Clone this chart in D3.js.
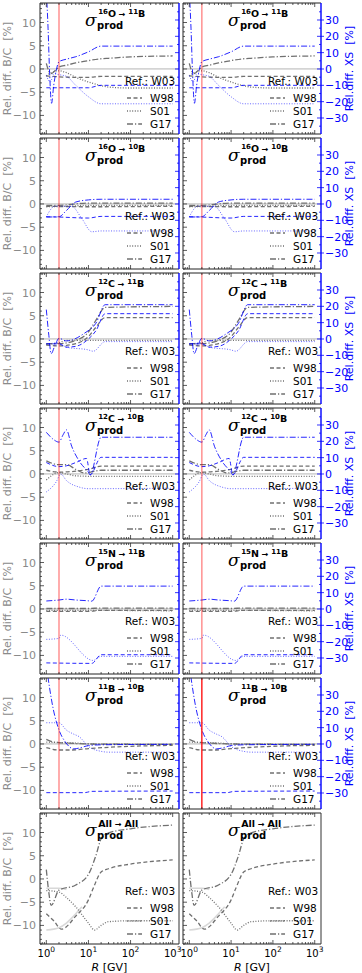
<!DOCTYPE html>
<html>
<head>
<meta charset="utf-8">
<script src="https://cdn.jsdelivr.net/npm/d3@7"></script>
<style>
  body { margin: 0; background: #fff; }
  svg { display: block; font-family: "DejaVu Sans", sans-serif; }
</style>
</head>
<body>
<svg id="chart" width="362" height="973"></svg>
<script>
// ---- data: [R (GV), relative difference (%)] ----
// B/C differences (left axis) and XS differences (right axis), w.r.t. W03

// 16O -> 11B
const o16b11BcW98 = [[1,-1.5],[1.5,-1.6],[2,-1.7],[5,-1.8],[10,-1.8],[20,-1.6],[1000,-1.6]];
const o16b11BcS01 = [[1,-1.5],[1.3,-0.8],[2,-0.4],[3,-0.8],[5,-1.8],[10,-2.8],[20,-3.6],[30,-3.9],[100,-4.1],[1000,-4.1]];
const o16b11BcG17 = [[1,1.2],[1.15,-0.5],[1.3,-1],[1.6,-0.4],[2,0.4],[3,0.8],[5,1.3],[10,1.8],[20,2.2],[30,2.3],[100,2.6],[1000,2.8]];
const o16b11XsW98 = [[1,-11.5],[10,-11.5],[20,-10],[1000,-10]];
const o16b11XsS01 = [[1,-4],[1.25,-8],[1.5,-3],[2,-3.5],[3,-4.5],[5,-10],[10,-17],[20,-21.3],[1000,-21.3]];
const o16b11XsG17 = [[1,48],[1.1,25],[1.2,-3],[1.33,-21],[1.5,-10],[1.75,0],[2,4.5],[3,6],[5,7.5],[10,10.5],[20,14],[1000,14]];

// 16O -> 10B
const o16b10BcW98 = [[1,-0.5],[10,-0.6],[1000,-0.5]];
const o16b10BcS01 = [[1,-0.6],[3,-0.5],[10,-0.3],[1000,-0.3]];
const o16b10BcG17 = [[1,-0.3],[2,-0.3],[10,0.2],[1000,0.2]];
const o16b10XsW98 = [[1,-7.8],[2,-8],[10,-8.6],[20,-7.6],[1000,-7.6]];
const o16b10XsS01 = [[1,-8],[1.3,-3],[1.6,-1.3],[4,-1.5],[7,-9],[12,-17],[20,-16.5],[1000,-16.5]];
const o16b10XsG17 = [[1,-8],[2,-7.8],[3,-4],[5,1.2],[10,2.5],[20,2.9],[1000,2.9]];

// 12C -> 11B
const c12b11BcW98 = [[1,-1.3],[2,-1.5],[5,-1],[10,0.5],[15,2.5],[25,4.6],[1000,4.6]];
const c12b11BcS01 = [[1,-1.2],[2,-0.8],[3,-0.3],[1000,-0.3]];
const c12b11BcG17 = [[1,-1],[2,-1],[5,-0.3],[10,1.5],[15,4],[25,6.8],[1000,7]];
const c12b11XsW98 = [[1,-3],[2,-3],[3,-5],[5,-4.5],[10,0],[15,5],[25,15.5],[1000,15.5]];
const c12b11XsS01 = [[1,-3],[2,-2.5],[3,-5],[10,-6.7],[13,-7.5],[25,-1.6],[1000,-1.6]];
const c12b11XsG17 = [[1,18],[1.15,2],[1.3,-9],[1.6,-4],[2,0.4],[3,-1.2],[8,3.5],[15,9.6],[25,21],[1000,21]];

// 12C -> 10B
const c12b10BcW98 = [[1,0.8],[2,0.4],[5,0.6],[10,1],[20,1.7],[1000,1.7]];
const c12b10BcS01 = [[1,-1.3],[2,0.3],[3,0],[5,-0.4],[10,-0.5],[1000,-0.5]];
const c12b10BcG17 = [[1,2.8],[2,2],[3,2],[5,1],[8,0.2],[10,0.3],[20,0.8],[1000,0.8]];
const c12b10XsW98 = [[1,7],[2,4.5],[3,5],[5,7],[9,9.5],[11,-0.5],[20,10.2],[1000,10.2]];
const c12b10XsS01 = [[1,-11],[1.7,-5],[2.2,0],[3,-4],[6,-8],[10,-9],[1000,-8.7]];
const c12b10XsG17 = [[1,25.5],[1.5,21],[2,19.5],[2.5,24],[3,27],[4,17],[6,8],[10,1],[11,-0.5],[20,22.5],[1000,22.5]];

// 15N -> 11B
const n15b11BcW98 = [[1,-0.5],[10,-0.5],[20,-0.3],[1000,-0.3]];
const n15b11BcS01 = [[1,-0.3],[10,-0.3],[1000,-0.4]];
const n15b11BcG17 = [[1,0.1],[10,0.1],[20,0.2],[1000,0.2]];
const n15b11XsW98 = [[1,-33],[12,-33.3],[20,-28],[1000,-28]];
const n15b11XsS01 = [[1,-18.6],[2,-18],[2.2,-16],[13,-31.5],[20,-29],[1000,-29]];
const n15b11XsG17 = [[1,4.9],[2,5.5],[3,6],[5,5.5],[10,5],[12,4.8],[20,14],[1000,14]];

// 11B -> 10B
const b11b10BcW98 = [[1,-0.8],[2,-1.3],[4,-1.3],[10,-1],[100,-0.5],[1000,-0.3]];
const b11b10BcS01 = [[1,0.4],[2,0.3],[5,0.2],[10,0],[1000,-0.1]];
const b11b10BcG17 = [[1,1],[1.5,0.4],[2,0.3],[3,0.2],[10,0],[1000,-0.1]];
const b11b10XsW98 = [[1,-29.8],[8,-29.8],[12,-29],[1000,-28.8]];
const b11b10XsS01 = [[1,13],[2,13],[3,8.5],[4.5,6],[6,4.5],[10,-1.5],[20,-4.5],[30,-5],[1000,-5]];
const b11b10XsG17 = [[1,48],[1.45,21.8],[2,8.6],[2.8,1.4],[4.5,-3],[6,-2.5],[10,-1],[20,-0.5],[1000,-0.2]];

// All -> All (B/C only)
const allBcW98 = [[1,-7.5],[1.5,-9],[2.3,-10.8],[5,-8],[10,-4.5],[13,-2],[20,1.5],[30,2.2],[100,3.2],[1000,4.1]];
const allBcS01 = [[1,-2.5],[2,-2.8],[3,-4],[5,-6],[10,-9.5],[14,-11],[20,-10],[30,-9.2],[100,-9],[1000,-9]];
const allBcG17 = [[1,2],[1.15,-3],[1.3,-5.7],[2,-2.4],[5,-1.3],[10,1],[15,5],[20,8.6],[30,9.9],[100,10.8],[1000,11.6]];
const allBcW03a = [[1,-11],[2,-10.5],[3,-9.5],[5,-7.5],[7,-6]];
const allBcW03b = [[1,-2],[2,-2],[3,-2.3]];

const titles = [
  ["16", "O", "11", "B"],
  ["16", "O", "10", "B"],
  ["12", "C", "11", "B"],
  ["12", "C", "10", "B"],
  ["15", "N", "11", "B"],
  ["11", "B", "10", "B"],
  ["", "All", "", "All"]
];
const legendRefs = ["W98", "S01", "G17"];
const xTicks = [1, 10, 100, 1000];
const bcTicks = [-10, -5, 0, 5, 10];
const xsTicks = [-30, -20, -10, 0, 10, 20, 30];

// ---- build panel table ----
const panels = [
  {bc: [o16b11BcW98, o16b11BcS01, o16b11BcG17], xs: [o16b11XsW98, o16b11XsS01, o16b11XsG17]},
  {bc: [o16b10BcW98, o16b10BcS01, o16b10BcG17], xs: [o16b10XsW98, o16b10XsS01, o16b10XsG17]},
  {bc: [c12b11BcW98, c12b11BcS01, c12b11BcG17], xs: [c12b11XsW98, c12b11XsS01, c12b11XsG17]},
  {bc: [c12b10BcW98, c12b10BcS01, c12b10BcG17], xs: [c12b10XsW98, c12b10XsS01, c12b10XsG17]},
  {bc: [n15b11BcW98, n15b11BcS01, n15b11BcG17], xs: [n15b11XsW98, n15b11XsS01, n15b11XsG17]},
  {bc: [b11b10BcW98, b11b10BcS01, b11b10BcG17], xs: [b11b10XsW98, b11b10XsS01, b11b10XsG17]},
  {bc: [allBcW98, allBcS01, allBcG17], xs: [], extra: [allBcW03a, allBcW03b]}
];

const dashes = ["4,2.5", "1,1.6", "6,2,1.2,2"];
const blue = "#0000ff";
const grayTick = "#8a8a8a";

const svg = d3.select("#chart");
const colX = [40, 183];
const colW = [139, 138];
const rowY = i => 3 + 135 * i;
const panelH = 131;

const defs = svg.append("defs");

panels.forEach((p, row) => {
  colX.forEach((x0, col) => {
    const y0 = rowY(row);
    const w = colW[col];
    const isAll = row === 6;

    const x = d3.scaleLog().domain([Math.pow(10, -0.15), Math.pow(10, 3.15)]).range([x0, x0 + w]);
    const yBc = d3.scaleLinear().domain([-14, 14.2]).range([y0 + panelH, y0]);
    const yXs = d3.scaleLinear().domain([-39.8, 40.4]).range([y0 + panelH, y0]);

    const clipId = `clip-${row}-${col}`;
    defs.append("clipPath").attr("id", clipId)
      .append("rect").attr("x", x0).attr("y", y0).attr("width", w).attr("height", panelH);

    const g = svg.append("g");
    const plot = g.append("g").attr("clip-path", `url(#${clipId})`);

    const lineBc = d3.line().x(d => x(d[0])).y(d => yBc(d[1])).curve(d3.curveMonotoneX);
    const lineXs = d3.line().x(d => x(d[0])).y(d => yXs(d[1])).curve(d3.curveMonotoneX);

    // reference (W03) at zero
    if (!isAll) {
      plot.append("line")
        .attr("x1", x0).attr("x2", x0 + w)
        .attr("y1", yBc(0)).attr("y2", yBc(0))
        .attr("stroke", "#d4d4d4").attr("stroke-width", 1.8);
    } else {
      p.extra.forEach(s => {
        plot.append("path").attr("d", lineBc(s))
          .attr("fill", "none").attr("stroke", "#d8d8d8").attr("stroke-width", 1.5);
      });
    }

    // B/C differences
    p.bc.forEach((s, k) => {
      plot.append("path").attr("d", lineBc(s))
        .attr("fill", "none").attr("stroke", "#707070")
        .attr("stroke-width", 1.3).attr("stroke-dasharray", dashes[k]);
    });

    // XS differences
    p.xs.forEach((s, k) => {
      plot.append("path").attr("d", lineXs(s))
        .attr("fill", "none").attr("stroke", blue).attr("stroke-opacity", k === 1 ? 0.6 : 0.85)
        .attr("stroke-width", 1).attr("stroke-dasharray", dashes[k]);
    });

    // threshold line at 2 GV
    if (!isAll) {
      plot.append("line")
        .attr("x1", x(2)).attr("x2", x(2))
        .attr("y1", y0).attr("y2", y0 + panelH)
        .attr("stroke", "red")
        .attr("stroke-opacity", row === 5 && col === 1 ? 1 : 0.5)
        .attr("stroke-width", 1.3);
    }

    // x ticks (inward, top and bottom)
    const minor = [];
    for (let e = 0; e < 4; e++) for (let m = 1; m < 10; m++) {
      const v = m * Math.pow(10, e);
      if (v <= 1000) minor.push(v);
    }
    [2, 3, 4, 5, 6, 7, 8, 9].forEach(m => minor.push(m / 10));
    minor.forEach(v => {
      if (v < x.domain()[0] || v > x.domain()[1]) return;
      const len = xTicks.includes(v) ? 4 : 2;
      g.append("line").attr("x1", x(v)).attr("x2", x(v))
        .attr("y1", y0 + panelH).attr("y2", y0 + panelH - len).attr("stroke", "#333").attr("stroke-width", 0.8);
      g.append("line").attr("x1", x(v)).attr("x2", x(v))
        .attr("y1", y0).attr("y2", y0 + len).attr("stroke", "#333").attr("stroke-width", 0.8);
    });

    // left axis ticks
    d3.range(-14, 15).forEach(v => {
      const len = v % 5 === 0 ? 4 : 2;
      g.append("line").attr("x1", x0).attr("x2", x0 + len)
        .attr("y1", yBc(v)).attr("y2", yBc(v)).attr("stroke", "#333").attr("stroke-width", 0.8);
    });
    if (col === 0) {
      bcTicks.forEach(v => {
        g.append("text").attr("x", x0 - 4).attr("y", yBc(v) + 4)
          .attr("text-anchor", "end").attr("font-size", 11).attr("fill", grayTick)
          .text(v < 0 ? "\u2212" + Math.abs(v) : v);
      });
      g.append("text")
        .attr("transform", `translate(11,${y0 + panelH / 2}) rotate(-90)`)
        .attr("text-anchor", "middle").attr("font-size", 11).attr("fill", grayTick)
        .attr("xml:space", "preserve")
        .text("Rel. diff. B/C  [%]");
    }

    // right axis
    const rightColor = isAll ? "#333" : blue;
    if (!isAll) {
      d3.range(-35, 40, 5).forEach(v => {
        const len = v % 10 === 0 ? 4 : 2;
        g.append("line").attr("x1", x0 + w).attr("x2", x0 + w - len)
          .attr("y1", yXs(v)).attr("y2", yXs(v)).attr("stroke", blue).attr("stroke-width", 0.8);
      });
      if (col === 1) {
        xsTicks.forEach(v => {
          g.append("line").attr("x1", x0 + w).attr("x2", x0 + w + 3)
            .attr("y1", yXs(v)).attr("y2", yXs(v)).attr("stroke", blue).attr("stroke-width", 0.8);
          g.append("text").attr("x", x0 + w + 4).attr("y", yXs(v) + 4)
            .attr("font-size", 11).attr("fill", blue)
            .text(v < 0 ? "\u2212" + Math.abs(v) : v);
        });
        g.append("text")
          .attr("transform", `translate(353,${y0 + panelH / 2}) rotate(-90)`)
          .attr("text-anchor", "middle").attr("font-size", 11).attr("fill", blue)
          .attr("xml:space", "preserve")
          .text("Rel.diff. XS  [%]");
      }
    }

    // frame
    g.append("line").attr("x1", x0).attr("x2", x0 + w).attr("y1", y0).attr("y2", y0).attr("stroke", "#222");
    g.append("line").attr("x1", x0).attr("x2", x0 + w).attr("y1", y0 + panelH).attr("y2", y0 + panelH).attr("stroke", "#222");
    g.append("line").attr("x1", x0).attr("x2", x0).attr("y1", y0).attr("y2", y0 + panelH).attr("stroke", "#222");
    g.append("line").attr("x1", x0 + w).attr("x2", x0 + w).attr("y1", y0).attr("y2", y0 + panelH)
      .attr("stroke", rightColor).attr("stroke-width", isAll ? 1 : 1.4);

    // title: sigma_prod^{A -> B}, one text element with shifted tspans
    const t = titles[row];
    const title = g.append("text").attr("x", x0 + 45).attr("y", y0 + 23).attr("font-size", 17);
    title.append("tspan").attr("font-style", "italic").attr("font-family", "DejaVu Serif, serif").text("\u03c3");
    title.append("tspan").attr("font-size", 10).attr("font-weight", "bold").attr("dx", 0.5).attr("dy", 2.5).text("prod");
    const back = -25, up = -11.5;
    if (t[0]) {
      title.append("tspan").attr("font-size", 7).attr("font-weight", "bold").attr("dx", back).attr("dy", up - 3).text(t[0]);
      title.append("tspan").attr("font-size", 9.5).attr("font-weight", "bold").attr("dy", 3).text(t[1]);
    } else {
      title.append("tspan").attr("font-size", 9.5).attr("font-weight", "bold").attr("dx", back).attr("dy", up).text(t[1]);
    }
    title.append("tspan").attr("font-size", 8).attr("font-weight", "bold").text(" \u2192 ");
    if (t[2]) {
      title.append("tspan").attr("font-size", 7).attr("font-weight", "bold").attr("dy", -3).text(t[2]);
      title.append("tspan").attr("font-size", 9.5).attr("font-weight", "bold").attr("dy", 3).text(t[3]);
    } else {
      title.append("tspan").attr("font-size", 9.5).attr("font-weight", "bold").text(t[3]);
    }

    // legend
    const lx = x0 + 85;
    g.append("text").attr("x", lx).attr("y", y0 + 82).attr("font-size", 10.5).text("Ref.: W03");
    legendRefs.forEach((name, k) => {
      const ly = y0 + 95 + 13 * k;
      g.append("line").attr("x1", lx + 2).attr("x2", lx + 17).attr("y1", ly).attr("y2", ly)
        .attr("stroke", "#707070").attr("stroke-width", 1.3).attr("stroke-dasharray", dashes[k]);
      g.append("text").attr("x", lx + 25).attr("y", ly + 4).attr("font-size", 10.5).text(name);
    });

    // bottom tick labels
    if (isAll) {
      xTicks.forEach((v, k) => {
        const tl = g.append("text").attr("x", x(v)).attr("y", y0 + panelH + 13)
          .attr("text-anchor", "middle").attr("font-size", 10);
        tl.append("tspan").text("10");
        tl.append("tspan").attr("font-size", 7.5).attr("dy", -5).text(k);
      });
      const xl = g.append("text").attr("x", x0 + w / 2).attr("y", y0 + panelH + 27)
        .attr("text-anchor", "middle").attr("font-size", 11);
      xl.append("tspan").attr("font-style", "italic").text("R");
      xl.append("tspan").text(" [GV]");
    }
  });
});
</script>
</body>
</html>
